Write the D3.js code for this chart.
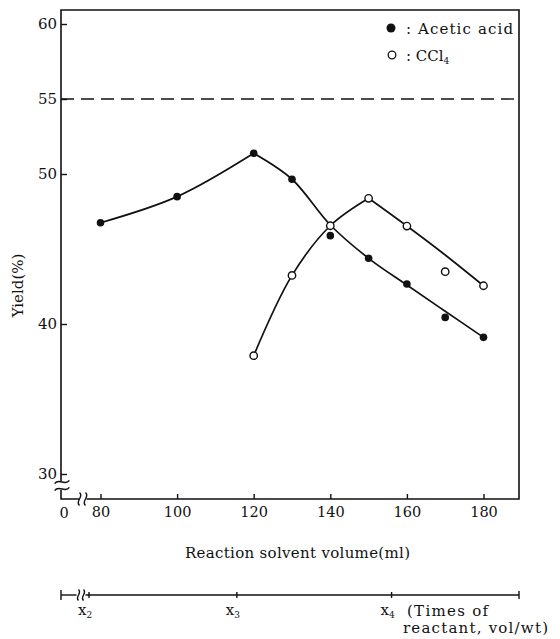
<!DOCTYPE html>
<html>
<head>
<meta charset="utf-8">
<script src="https://cdn.jsdelivr.net/npm/d3@7"></script>
<style>
    body { margin: 0; background: #fff; }
    text { font-family: "DejaVu Serif", "Liberation Serif", serif; fill: #111; }
</style>
</head>
<body>
<svg id="chart"></svg>
<script>
// yield (%)
const volumes = [80, 100, 120, 130, 140, 150, 160, 170, 180]
const aceticYield = [46.75, 48.49, 51.38, 49.65, 45.89, 44.38, 42.67, 40.44, 39.11]
const aceticFit = [46.75, 48.49, 51.38, 49.65, 46.6, 44.38, 42.6, 40.85, 39.11]
const cclVolumes = [120, 130, 140, 150, 160, 170, 180]
const cclYield = [37.89, 43.24, 46.55, 48.38, 46.53, 43.49, 42.55]
const cclFit = [37.89, 43.24, 46.55, 48.38, 46.53, 44.6, 42.55]
const xTicks = [80, 100, 120, 140, 160, 180]
const yTicks = [30, 40, 50, 55, 60]
const targetYield = 55
const timesLabels = ['2', '3', '4']
const timesVolumes = [77, 115.6, 156]

const width = 560
const height = 639
const frame = { left: 61, right: 519, top: 10, bottom: 499 }
const serif = '"DejaVu Serif", "Liberation Serif", serif'

const svg = d3.select('#chart')
    .attr('width', width)
    .attr('height', height)

const x = d3.scaleLinear().domain([80, 180]).range([100.5, 483.5])
const y = d3.scaleLinear().domain([30, 60]).range([474, 24])

const ink = '#111'

// frame, with the broken corner at bottom left
const yBreak = y(30) + 7
const xBreak = x(80) - 18
const frameG = svg.append('g').attr('stroke', ink).attr('fill', 'none')
frameG.append('path')
    .attr('stroke-width', 1.6)
    .attr('d', `M${frame.left},${yBreak} V${frame.top} H${frame.right} V${frame.bottom} H${xBreak + 4}`)
frameG.append('path')
    .attr('stroke-width', 1.6)
    .attr('d', `M${frame.left},${yBreak + 9} V${frame.bottom} H${xBreak - 3}`)

// break marks
function wave(len, amp) {
    const p = d3.path()
    p.moveTo(-len / 2, 0)
    p.bezierCurveTo(-len / 6, -amp * 2, len / 6, amp * 2, len / 2, 0)
    return p.toString()
}
;[yBreak + 1, yBreak + 8].forEach((yy) => {
    frameG.append('path')
        .attr('stroke-width', 1.4)
        .attr('transform', `translate(${frame.left + 1},${yy}) rotate(-12)`)
        .attr('d', wave(15, 2.5))
})
;[xBreak - 3, xBreak + 3].forEach((xx) => {
    frameG.append('path')
        .attr('stroke-width', 1.4)
        .attr('transform', `translate(${xx},${frame.bottom}) rotate(90)`)
        .attr('d', wave(13, 2.5))
})

// axes with inward ticks
const xAxis = svg.append('g')
    .attr('transform', `translate(0,${frame.bottom})`)
    .call(d3.axisBottom(x).tickValues(xTicks).tickSize(-5).tickPadding(8).tickFormat(d3.format('d')))
xAxis.select('.domain').remove()
xAxis.selectAll('line').attr('stroke', ink).attr('stroke-width', 1.4)
xAxis.selectAll('text').attr('font-size', 14.5).style('font-family', serif).attr('fill', ink)

const yAxis = svg.append('g')
    .attr('transform', `translate(${frame.left},0)`)
    .call(d3.axisLeft(y).tickValues(yTicks).tickSize(-6).tickPadding(4).tickFormat(d3.format('d')))
yAxis.select('.domain').remove()
yAxis.selectAll('line').attr('stroke', ink).attr('stroke-width', 1.4)
yAxis.selectAll('text').attr('font-size', 15).style('font-family', serif).attr('fill', ink)

svg.append('text')
    .attr('x', frame.left + 3)
    .attr('y', frame.bottom + 19)
    .attr('text-anchor', 'middle')
    .attr('font-size', 14.5)
    .text('0')

// 55 % line
svg.append('line')
    .attr('x1', frame.left)
    .attr('x2', frame.right)
    .attr('y1', y(targetYield))
    .attr('y2', y(targetYield))
    .attr('stroke', ink)
    .attr('stroke-width', 1.4)
    .attr('stroke-dasharray', '13,7')

// fitted curves, split at the peak
const line = d3.line()
    .x((d) => x(d[0]))
    .y((d) => y(d[1]))
    .curve(d3.curveCatmullRom.alpha(0.5))

function drawFit(xs, ys) {
    const pts = xs.map((v, i) => [v, ys[i]])
    const peak = d3.maxIndex(ys)
    ;[pts.slice(0, peak + 1), pts.slice(peak)].forEach((seg) => {
        svg.append('path')
            .datum(seg)
            .attr('fill', 'none')
            .attr('stroke', ink)
            .attr('stroke-width', 1.7)
            .attr('d', line)
    })
}
drawFit(volumes, aceticFit)
drawFit(cclVolumes, cclFit)

svg.append('g')
    .selectAll('circle')
    .data(volumes)
    .enter()
    .append('circle')
    .attr('cx', (d) => x(d))
    .attr('cy', (d, i) => y(aceticYield[i]))
    .attr('r', 3.8)
    .attr('fill', ink)

svg.append('g')
    .selectAll('circle')
    .data(cclVolumes)
    .enter()
    .append('circle')
    .attr('cx', (d) => x(d))
    .attr('cy', (d, i) => y(cclYield[i]))
    .attr('r', 3.7)
    .attr('fill', '#fff')
    .attr('stroke', ink)
    .attr('stroke-width', 1.4)

// legend
svg.append('circle').attr('cx', 391).attr('cy', 28).attr('r', 4.5).attr('fill', ink)
svg.append('text')
    .attr('x', 406).attr('y', 34)
    .attr('font-size', 15)
    .attr('textLength', 107).attr('lengthAdjust', 'spacing')
    .text(': Acetic acid')
svg.append('circle').attr('cx', 392).attr('cy', 55).attr('r', 3.8)
    .attr('fill', '#fff').attr('stroke', ink).attr('stroke-width', 1.3)
const ccl = svg.append('text')
    .attr('x', 406).attr('y', 61)
    .attr('font-size', 15)
ccl.append('tspan').text(': CCl')
ccl.append('tspan').attr('font-size', 9).attr('dy', 3).text('4')

// axis titles
svg.append('text')
    .attr('transform', `translate(23,${(y(40) + y(45)) / 2 - 1}) rotate(-90)`)
    .attr('text-anchor', 'middle')
    .attr('font-size', 15)
    .text('Yield(%)')

svg.append('text')
    .attr('x', 185)
    .attr('y', 558)
    .attr('font-size', 15)
    .attr('textLength', 225).attr('lengthAdjust', 'spacing')
    .text('Reaction solvent volume(ml)')

// second scale: times of reactant
const tY = 595
const tg = svg.append('g').attr('stroke', ink).attr('fill', 'none').attr('stroke-width', 1.4)
tg.append('path').attr('d', `M${frame.left},${tY} H${xBreak - 6}`)
tg.append('path').attr('d', `M${xBreak + 3},${tY} H${frame.right}`)
tg.append('path').attr('d', `M${frame.left},${tY - 5} V${tY + 5}`)
tg.append('path').attr('d', `M${frame.right},${tY - 4} V${tY + 4}`)
;[xBreak - 4, xBreak + 1].forEach((xx) => {
    tg.append('path')
        .attr('transform', `translate(${xx},${tY}) rotate(90)`)
        .attr('d', wave(11, 2))
})
tg.selectAll('.tick')
    .data(timesVolumes)
    .enter()
    .append('line')
    .attr('class', 'tick')
    .attr('x1', (d) => x(d)).attr('x2', (d) => x(d))
    .attr('y1', tY - 3).attr('y2', tY + 3)

const tl = svg.append('g')
    .selectAll('text')
    .data(timesVolumes)
    .enter()
    .append('text')
    .attr('x', (d) => x(d) - 4)
    .attr('y', tY + 20)
    .attr('text-anchor', 'middle')
    .attr('font-size', 15)
tl.append('tspan').text('x')
tl.append('tspan').attr('font-size', 9).attr('dy', 3).text((d, i) => timesLabels[i])

svg.append('text')
    .attr('x', 407).attr('y', tY + 21)
    .attr('font-size', 15)
    .attr('textLength', 81).attr('lengthAdjust', 'spacing')
    .text('(Times of')
svg.append('text')
    .attr('x', 403).attr('y', tY + 38)
    .attr('font-size', 15)
    .attr('textLength', 145).attr('lengthAdjust', 'spacing')
    .text('reactant, vol/wt)')
</script>
</body>
</html>
